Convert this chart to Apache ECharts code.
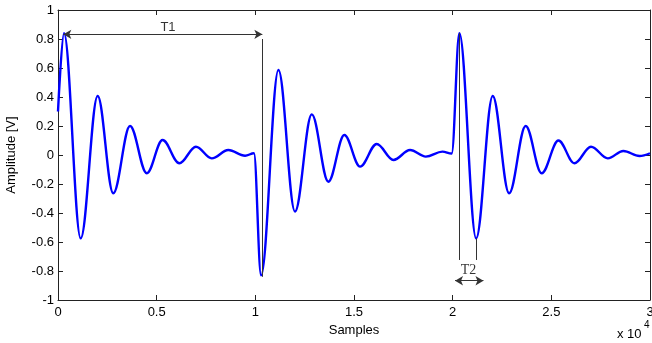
<!DOCTYPE html>
<html>
<head>
<meta charset="utf-8">
<script src="https://cdn.jsdelivr.net/npm/echarts@6/dist/echarts.min.js"></script>
<style>
html, body { margin: 0; padding: 0; background: #fff; }
#main { width: 652px; height: 343px; }
</style>
</head>
<body>
<div id="main"></div>
<script>
// turning points of the three pulses: [sample, amplitude]
var pulse1 = [[0, 0.3], [304, 0.84], [1150, -0.575], [2010, 0.407], [2800, -0.264], [3650, 0.2],
    [4500, -0.126], [5300, 0.103], [6150, -0.057], [6990, 0.057], [7790, -0.023], [8630, 0.034],
    [9480, -0.005], [9930, 0.012]];
var pulse2 = [[10290, -0.83], [11170, 0.586], [12010, -0.39], [12860, 0.28], [13700, -0.184],
    [14510, 0.138], [15310, -0.08], [16150, 0.076], [17000, -0.034], [17840, 0.034],
    [18640, -0.011], [19480, 0.023], [19950, 0.01]];
var pulse3 = [[20340, 0.84], [21190, -0.575], [22030, 0.407], [22860, -0.264], [23700, 0.2],
    [24510, -0.126], [25360, 0.1], [26170, -0.057], [27010, 0.057], [27860, -0.023],
    [28650, 0.028], [29470, -0.007], [30000, 0.012]];

var xTickLabels = ['0', '0.5', '1', '1.5', '2', '2.5', '3'];
var yTickLabels = ['-1', '-0.8', '-0.6', '-0.4', '-0.2', '0', '0.2', '0.4', '0.6', '0.8', '1'];

// annotation marks
var t1Arrow = [[270, 0.832], [10355, 0.832]];
var t1Line = [[10355, 0.8], [10355, -0.84]];
var t2Line1 = [[20324, 0.84], [20324, -0.724]];
var t2Line2 = [[21220, -0.575], [21220, -0.724]];
var t2Arrow = [[20120, -0.867], [21560, -0.867]];
var t1Text = [5575, 0.883];
var t2Text = [20800, -0.793];

var wave = pulse1.concat(pulse2, pulse3);

var font = "'Liberation Sans', Arial, sans-serif";
var chart = echarts.init(document.getElementById('main'));

function seg(p, sym) {
    return [
        { coord: p[0], symbol: sym ? 'arrow' : 'none' },
        { coord: p[1], symbol: sym ? 'arrow' : 'none' }
    ];
}

var frameAxis = {
    axisLine: { show: true, onZero: false, lineStyle: { color: '#222', width: 1 } },
    axisTick: { show: true, inside: true, length: 5, lineStyle: { color: '#222' } },
    splitLine: { show: false }
};

chart.setOption({
    animation: false,
    grid: { left: 58, right: 2, top: 10, bottom: 43, outerBoundsMode: 'none', containLabel: false },
    xAxis: [
        Object.assign({
            type: 'value', min: 0, max: 30000, interval: 5000, position: 'bottom',
            name: 'Samples', nameLocation: 'middle', nameGap: 22,
            nameTextStyle: { fontFamily: font, fontSize: 13, color: '#000' },
            axisLabel: {
                margin: 6, fontFamily: font, fontSize: 13, color: '#000',
                formatter: function (v) { return xTickLabels[Math.round(v / 5000)]; }
            }
        }, frameAxis),
        Object.assign({
            type: 'value', min: 0, max: 30000, interval: 5000, position: 'top',
            axisLabel: { show: false }
        }, frameAxis)
    ],
    yAxis: [
        Object.assign({
            type: 'value', min: -1, max: 1, interval: 0.2, position: 'left',
            name: 'Amplitude [V]', nameLocation: 'middle', nameGap: 40,
            nameTextStyle: { fontFamily: font, fontSize: 13, color: '#000' },
            axisLabel: {
                margin: 4, fontFamily: font, fontSize: 13, color: '#000',
                formatter: function (v) { return yTickLabels[Math.round((v + 1) / 0.2)]; }
            }
        }, frameAxis),
        Object.assign({
            type: 'value', min: -1, max: 1, interval: 0.2, position: 'right',
            axisLabel: { show: false }
        }, frameAxis)
    ],
    graphic: [
        { type: 'text', left: 617, top: 328, style: { text: 'x 10', font: '13px ' + font, fill: '#000' } },
        { type: 'text', left: 644, top: 320, style: { text: '4', font: '10px ' + font, fill: '#000' } }
    ],
    series: [
        {
            type: 'line',
            data: wave,
            smooth: 0.36,
            smoothMonotone: 'x',
            showSymbol: false,
            lineStyle: { color: '#0000ff', width: 2.4 },
            z: 3,
            markLine: {
                silent: true,
                symbolSize: [7, 8],
                label: { show: false },
                lineStyle: { color: '#333', width: 1, type: 'solid' },
                data: [
                    seg(t1Arrow, true),
                    seg(t1Line, false),
                    seg(t2Line1, false),
                    seg(t2Line2, false),
                    seg(t2Arrow, true)
                ]
            }
        },
        {
            type: 'scatter',
            symbolSize: 1,
            itemStyle: { color: 'rgba(0,0,0,0)' },
            silent: true,
            label: {
                show: true, position: 'inside', color: '#000',
                formatter: function (p) { return p.name; }
            },
            data: [
                { name: 'T1', value: t1Text, label: { fontFamily: font, fontSize: 13 } },
                { name: 'T2', value: t2Text, label: { fontFamily: "'Liberation Serif', 'Times New Roman', serif", fontSize: 14 } }
            ]
        }
    ]
});
</script>
</body>
</html>
